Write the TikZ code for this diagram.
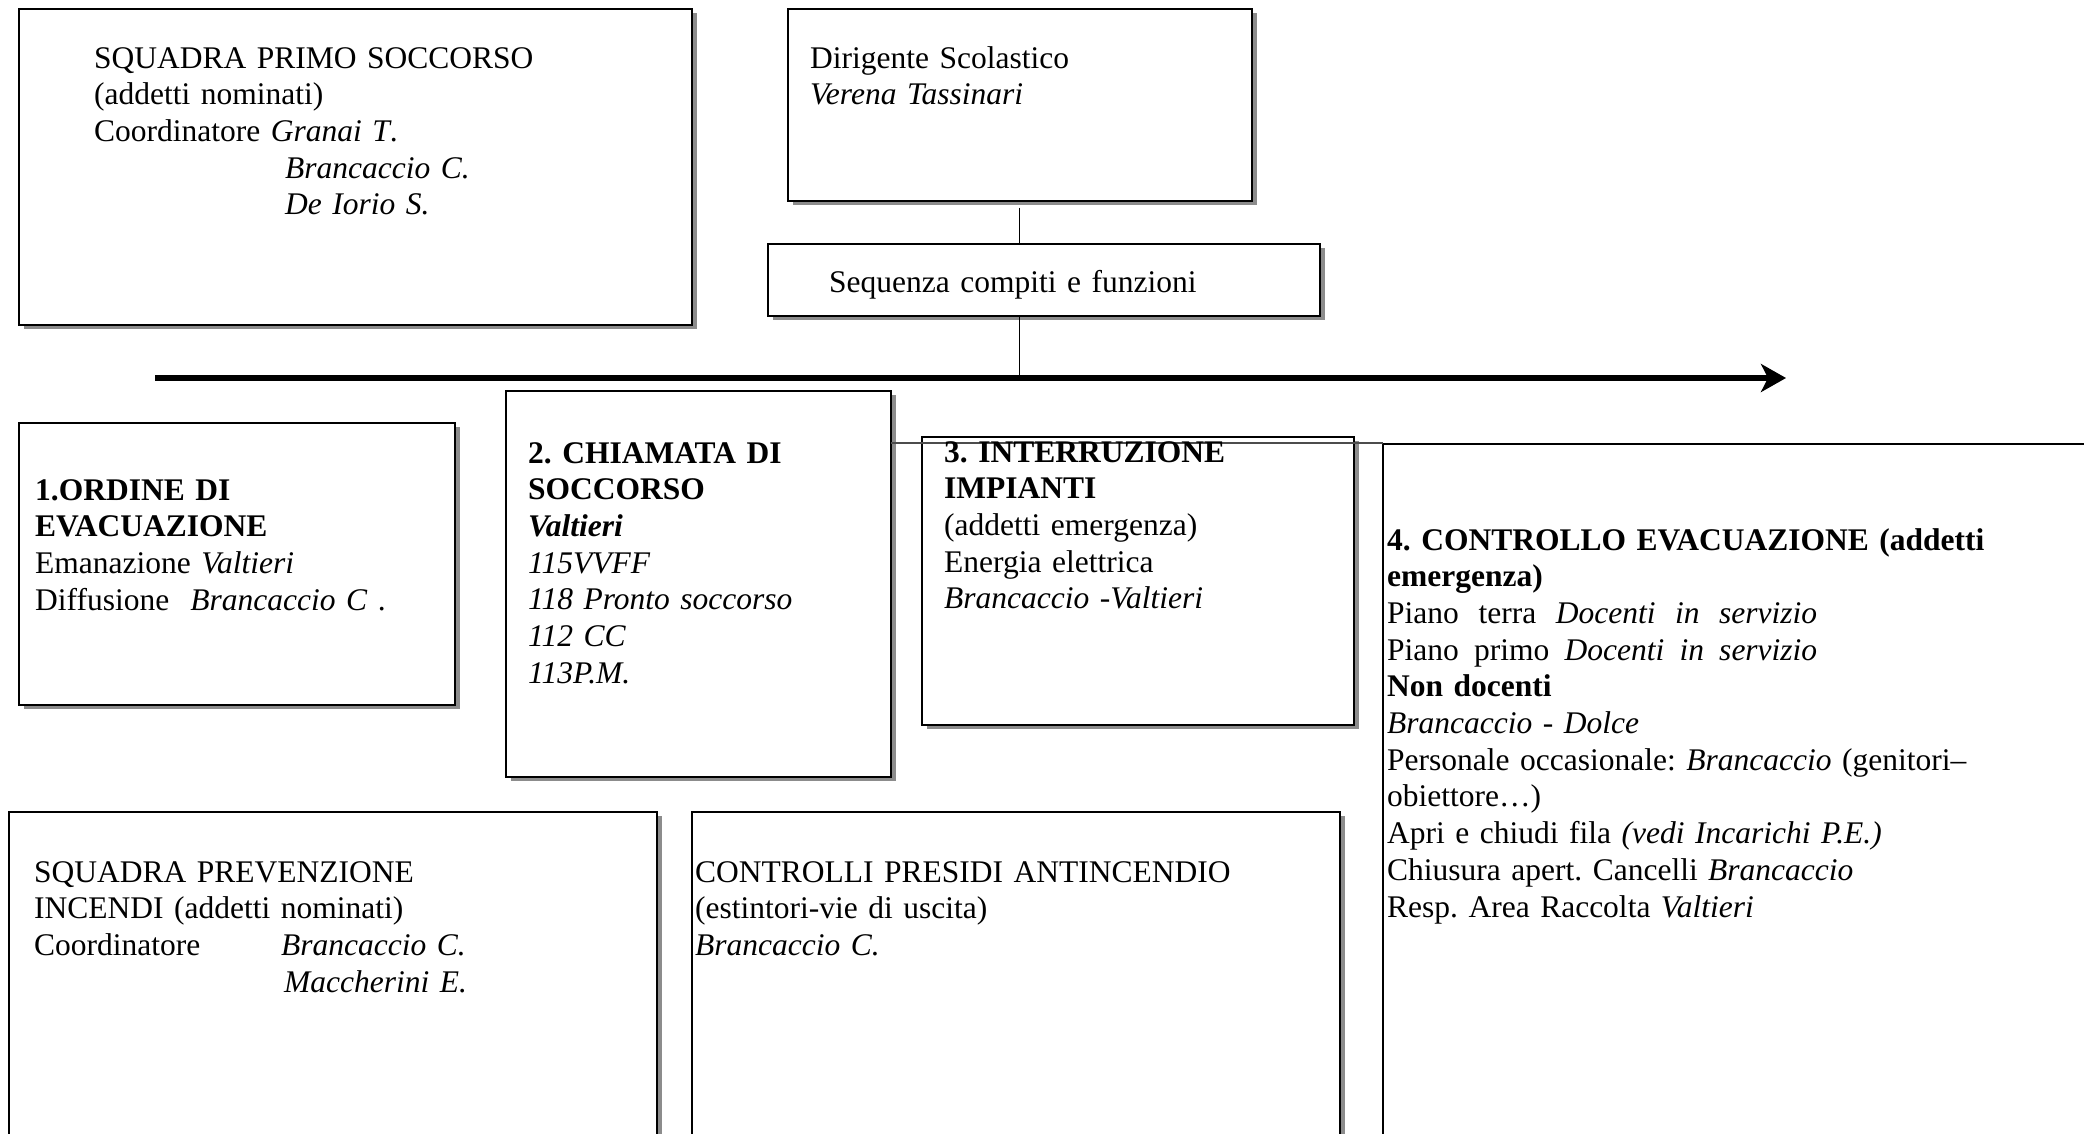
\documentclass[tikz,border=0pt]{standalone}
\usepackage{fontspec}
\setmainfont{Liberation Serif}
\usetikzlibrary{arrows.meta,shadows}
\newcommand\mainsz{\fontsize{31.5}{36.7}\selectfont\frenchspacing}
\begin{document}
\begin{tikzpicture}[x=1pt,y=-1pt,
  box/.style={draw=black, line width=1.3pt, fill=white, inner sep=0pt,
    drop shadow={shadow xshift=5pt, shadow yshift=-4pt, fill=black!45, opacity=1}},
  openbox/.style={draw=black, line width=1.1pt, fill=white, inner sep=0pt},
  txt/.style={anchor=base west, inner sep=0pt, text width=700pt, align=left, font=\mainsz},
  conn/.style={draw=black, line width=1pt},
  mainarrow/.style={draw=black, line width=6pt, -{Stealth[length=25pt,width=28pt,inset=7pt]}}]
\useasboundingbox (0,0) rectangle (2084,1133);
\clip (0,0) rectangle (2084,1133);
\fill[white] (0,0) rectangle (2084,1133);

% boxes
\node[box, minimum width=673pt, minimum height=316pt] (A) at (355.5,167) {};
\node[box, minimum width=464pt, minimum height=192pt] (B) at (1020,105) {};
\node[box, minimum width=552pt, minimum height=72pt] (C) at (1044,280) {};
\node[box, minimum width=436pt, minimum height=282pt] (D) at (237,564) {};
\node[box, minimum width=385pt, minimum height=386pt] (E) at (698.5,584) {};
\node[box, minimum width=432pt, minimum height=288pt] (F) at (1138,581) {};
\node[openbox, minimum width=760pt, minimum height=760pt] (G) at (1763,824) {};
\node[box, minimum width=648pt, minimum height=400pt] (H) at (333,1012) {};
\node[box, minimum width=648pt, minimum height=400pt] (I) at (1016,1012) {};

% connectors
\coordinate (arrS) at (155,378);
\coordinate (arrE) at (1786,378);
\draw[conn] ([yshift=-6pt]B.south -| 1019,0) -- (1019,0 |- C.north);
\draw[conn] (1019,0 |- C.south) -- (1019,0 |- arrS);
\draw[mainarrow] (arrS) -- (arrE);
\coordinate (eg1) at (891,443);
\coordinate (eg2) at (1383,443);
\draw[draw=black!70, line width=1.2pt] (eg1) -- (eg2);

% texts
\node[txt] (tA) at (94,68) {SQUADRA PRIMO SOCCORSO\\(addetti nominati)\\Coordinatore \textit{Granai T}.\\\hspace*{191pt}\textit{Brancaccio C.}\\\hspace*{191pt}\textit{De Iorio S.}};
\node[txt] (tB) at (810,68) {Dirigente Scolastico\\\textit{Verena Tassinari}};
\node[txt] (tC) at (829,292) {Sequenza compiti e funzioni};
\node[txt] (tD) at (35,500) {\textbf{1.ORDINE DI}\\\textbf{EVACUAZIONE}\\Emanazione \textit{Valtieri}\\Diffusione\ \ \textit{Brancaccio C} .};
\node[txt] (tE) at (528,463) {\textbf{2. CHIAMATA DI}\\\textbf{SOCCORSO}\\\textbf{\textit{Valtieri}}\\\textit{115VVFF}\\\textit{118 Pronto soccorso}\\\textit{112 CC}\\\textit{113P.M.}};
\node[txt] (tF) at (944,462) {\textbf{3. INTERRUZIONE}\\\textbf{IMPIANTI}\\(addetti emergenza)\\Energia elettrica\\\textit{Brancaccio -Valtieri}};
\node[txt] (tG) at (1387,550) {\textbf{4. CONTROLLO EVACUAZIONE (addetti}\\\textbf{emergenza)}\\\makebox[430pt][l]{Piano\hfill terra\hfill \textit{Docenti}\hfill\textit{in}\hfill\textit{servizio}}\\\makebox[430pt][l]{Piano\hfill primo\hfill \textit{Docenti}\hfill\textit{in}\hfill\textit{servizio}}\\\textbf{Non docenti}\\\textit{Brancaccio - Dolce}\\Personale occasionale: \textit{Brancaccio} (genitori–\\obiettore…)\\Apri e chiudi fila \textit{(vedi Incarichi P.E.)}\\Chiusura apert. Cancelli \textit{Brancaccio}\\Resp. Area Raccolta \textit{Valtieri}};
\node[txt] (tH) at (34,882) {SQUADRA PREVENZIONE\\INCENDI (addetti nominati)\\\makebox[247pt][l]{Coordinatore}\textit{Brancaccio C.}\\\hspace*{250pt}\textit{Maccherini E.}};
\node[txt] (tI) at (695,882) {CONTROLLI PRESIDI ANTINCENDIO\\(estintori-vie di uscita)\\\textit{Brancaccio C.}};
\end{tikzpicture}
\end{document}
